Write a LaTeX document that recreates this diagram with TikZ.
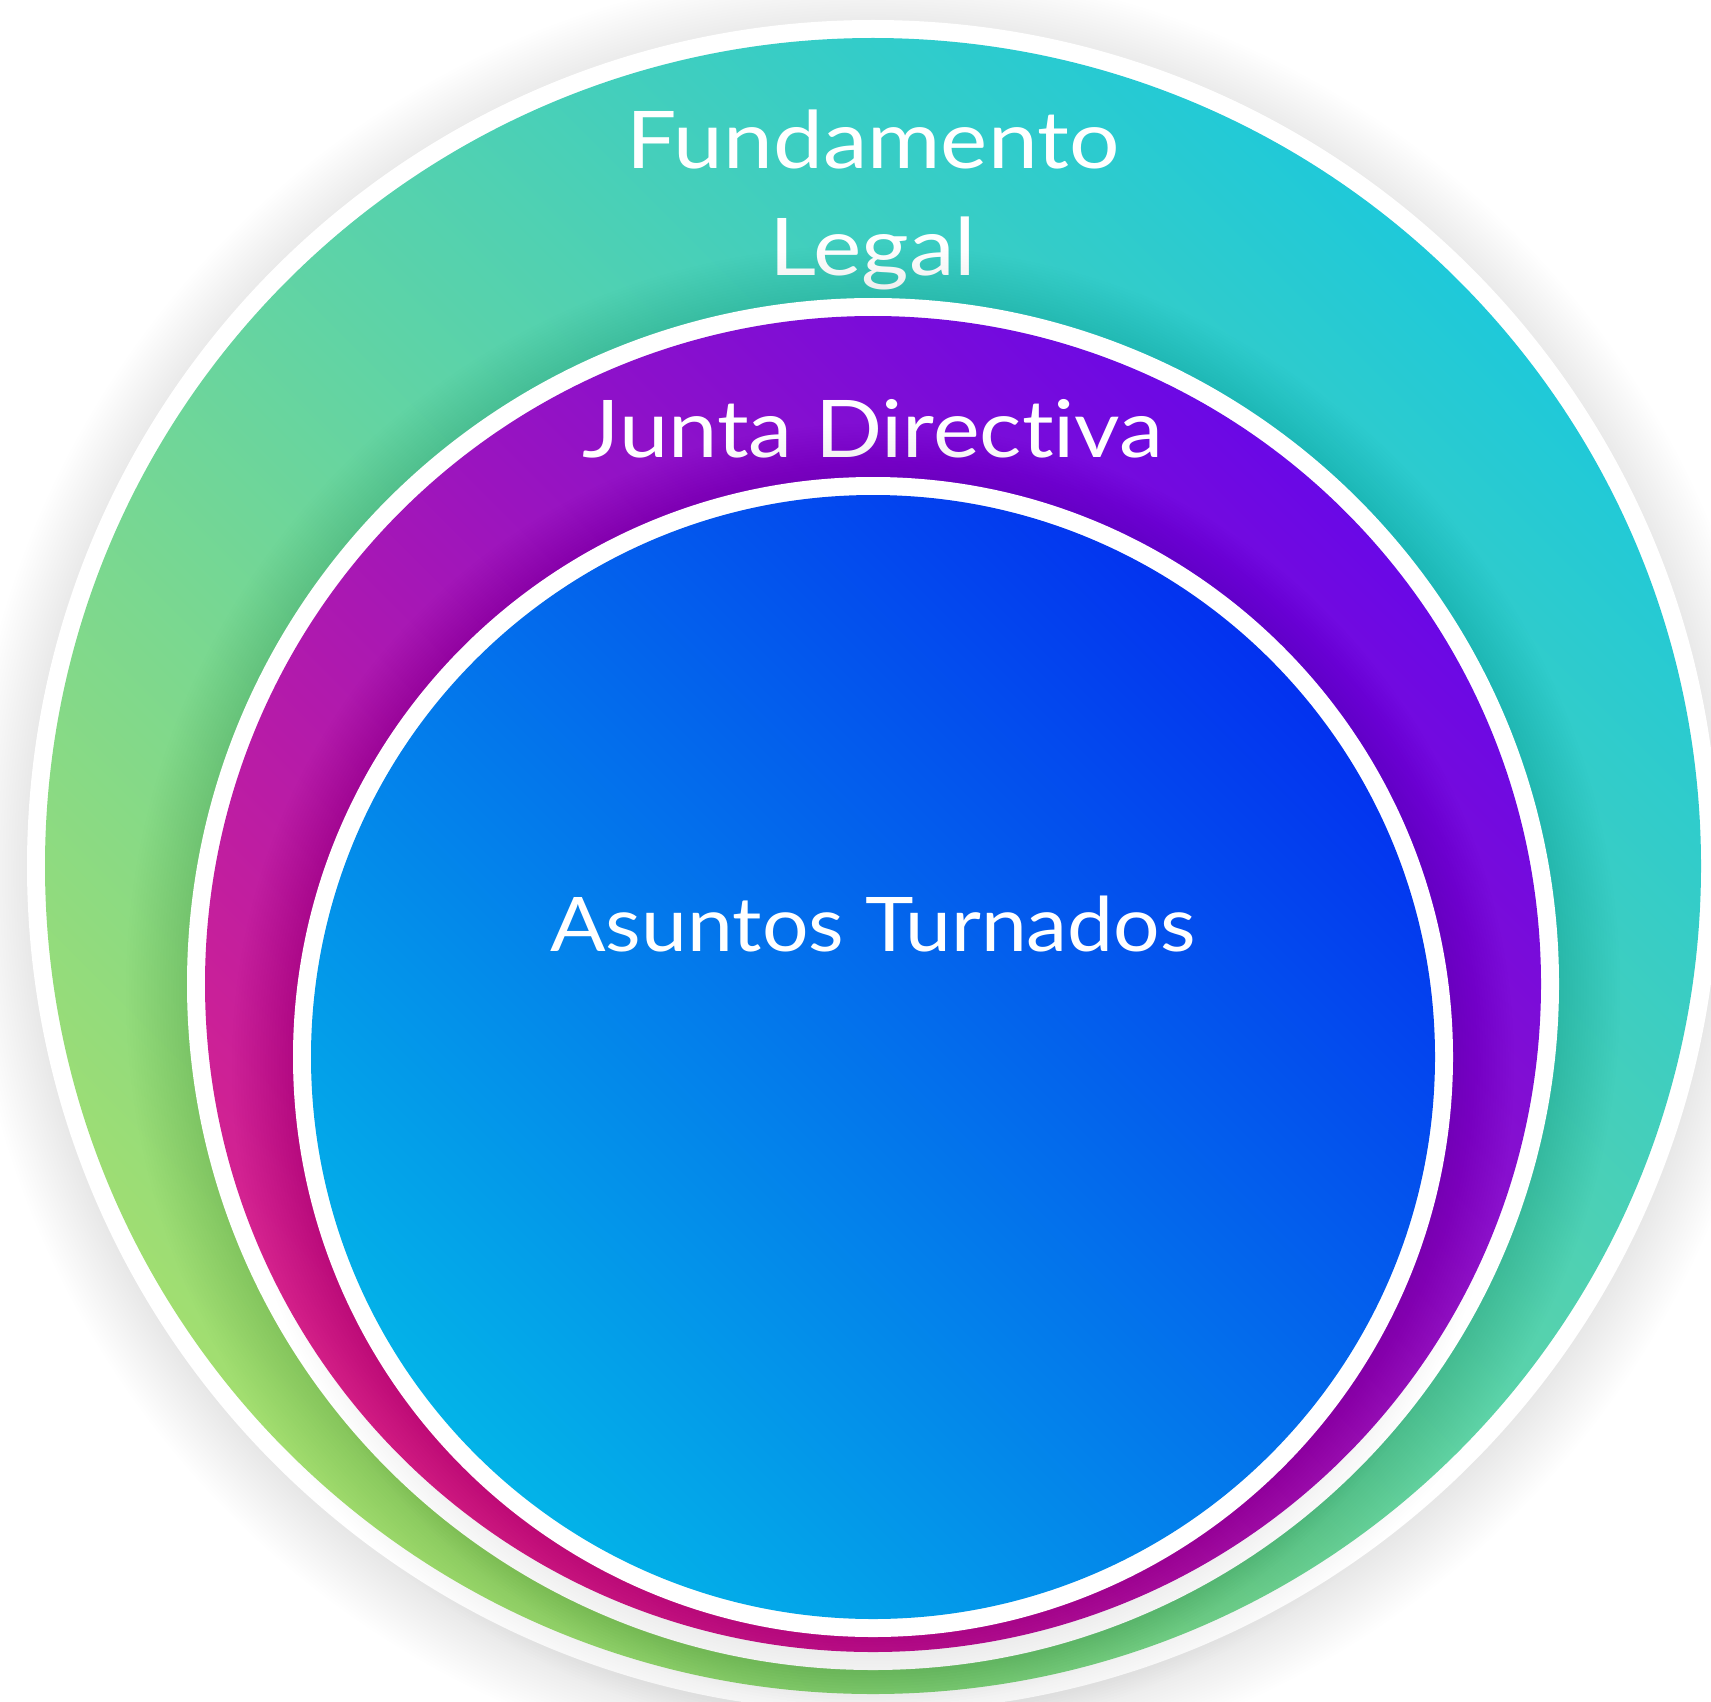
\documentclass[tikz,border=0pt]{standalone}
\usepackage{fontspec}
\setmainfont{Lato}[Ligatures={NoCommon}]
\definecolor{outA}{HTML}{1FC9D9}
\definecolor{outB}{HTML}{A2DE70}
\definecolor{midA}{HTML}{6A08E6}
\definecolor{midB}{HTML}{D9248C}
\definecolor{innA}{HTML}{0332EF}
\definecolor{innB}{HTML}{03B3E8}
\tikzset{
  ringtext/.style={text=white, anchor=base, inner sep=0pt},
  disc/.style={shading=axis, shading angle=-45}
}
\newcommand\softshadow[4]{%
  \foreach \k in {1,...,24}{%
    \fill[black, opacity=#4] (#1,#2+8) circle[radius=#3+2.8*\k];
  }}
\begin{document}
\begin{tikzpicture}[x=0.5pt,y=-0.5pt]
\useasboundingbox (0,0) rectangle (1711,1701);
\clip (0,0) rectangle (1711,1701);
\fill[white] (0,0) rectangle (1711,1701);
% outer
\softshadow{873}{866}{840}{0.0048}
\fill[white] (873,866) circle[radius=846];
\shade[top color=outA, bottom color=outB, disc] (873,866) circle[radius=828];
\node[ringtext, xscale=1.12, font=\fontsize{39.8}{48}\selectfont] (fund) at (873,169) {Fundamento};
\node[ringtext, xscale=1.15, font=\fontsize{39.8}{48}\selectfont] (legal) at (873,276) {Legal};
% middle
\softshadow{873}{984}{680}{0.0042}
\fill[white] (873,984) circle[radius=686];
\shade[top color=midA, bottom color=midB, disc] (873,984) circle[radius=668];
\node[ringtext, xscale=1.11, font=\fontsize{39.8}{48}\selectfont] (junta) at (873,457) {Junta Directiva};
% inner
\softshadow{873}{1057}{574}{0.0042}
\fill[white] (873,1057) circle[radius=580];
\shade[top color=innA, bottom color=innB, disc] (873,1057) circle[radius=562];
\node[ringtext, xscale=1.09, font=\fontsize{37.7}{46}\selectfont] (asuntos) at (873,951) {Asuntos Turnados};
\end{tikzpicture}
\end{document}
